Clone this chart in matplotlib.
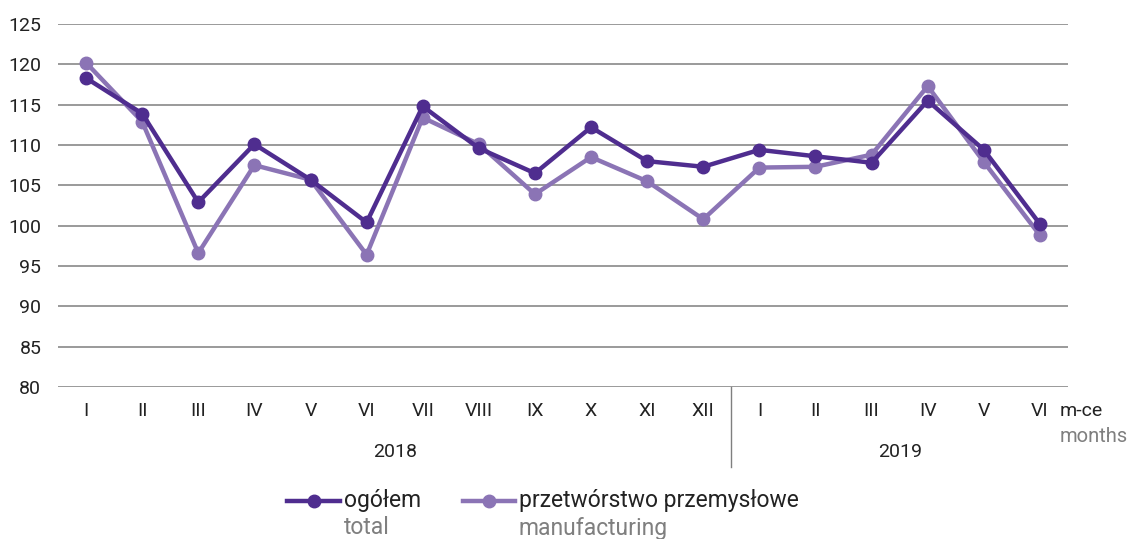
import matplotlib
matplotlib.use("Agg")
import matplotlib.pyplot as plt
from matplotlib.lines import Line2D
import matplotlib.transforms as mtransforms

plt.rcParams['font.family'] = ['Roboto', 'DejaVu Sans']

months = ["I", "II", "III", "IV", "V", "VI", "VII", "VIII", "IX", "X", "XI", "XII",
          "I", "II", "III", "IV", "V", "VI"]
years = ["2018", "2019"]
total = [118.3, 113.9, 102.9, 110.1, 105.7, 100.4, 114.8, 109.6, 106.5, 112.2, 108.0, 107.3,
         109.4, 108.6, 107.8, 115.5, 109.4, 100.2]
manufacturing = [120.2, 112.9, 96.6, 107.5, 105.7, 96.4, 113.4, 110.1, 103.9, 108.5, 105.5, 100.8,
                 107.2, 107.3, 108.8, 117.3, 107.9, 98.8]
yticks = [80, 85, 90, 95, 100, 105, 110, 115, 120, 125]

c_total = "#4f2d8f"
c_manu = "#8b74b5"
grey = "#7f7f7f"
fs = 14

fig = plt.figure(figsize=(11.32, 5.39), dpi=100)
ax = fig.add_axes([58/1132, 1-387/539, (1068-58)/1132, (387-24)/539])

x = list(range(len(months)))
ax.plot(x, total, color=c_total, lw=3.2, marker='o', ms=9, zorder=4, clip_on=False)
ax.plot(x, manufacturing, color=c_manu, lw=3.2, marker='o', ms=9, zorder=3, clip_on=False)

ax.set_xlim(-0.5, len(months) - 0.5)
ax.set_ylim(80, 125)
ax.set_yticks(yticks)
ax.set_yticklabels([str(v) for v in yticks])
ax.set_xticks(x)
ax.set_xticklabels(months)
ax.tick_params(axis='both', length=0, labelsize=fs, colors="#222222")
ax.tick_params(axis='y', pad=12)
ax.tick_params(axis='x', pad=11)
for s in ax.spines.values():
    s.set_visible(False)
ax.grid(axis='y', color=grey, lw=1.1)
ax.set_axisbelow(True)

# year separator
trans = mtransforms.blended_transform_factory(ax.transData, ax.transAxes)
ax.add_line(Line2D([11.5, 11.5], [0, -80/363], transform=trans, color=grey, lw=1, clip_on=False))
ax.text(5.5, -65/363, years[0], transform=trans, ha='center', va='center', fontsize=fs, color="#222222")
ax.text(14.5, -65/363, years[1], transform=trans, ha='center', va='center', fontsize=fs, color="#222222")

fig.text(1060/1132, 1-411/539, "m-ce", ha='left', va='center', fontsize=fs, color="#222222")
fig.text(1060/1132, 1-437/539, "months", ha='left', va='center', fontsize=fs + 0.5, color=grey)

# legend
def legend_item(x0, x1, color, label, sub):
    fy = 1-501/539
    fig.add_artist(Line2D([x0/1132, x1/1132], [fy, fy], color=color, lw=3.2,
                          transform=fig.transFigure))
    fig.add_artist(Line2D([(x0+x1)/2/1132], [fy], color=color, marker='o', ms=9,
                          transform=fig.transFigure))
    fig.text((x1+4)/1132, fy, label, ha='left', va='center', fontsize=16.5, color="#222222")
    fig.text((x1+4)/1132, 1-528/539, sub, ha='left', va='center', fontsize=16.5, color=grey)

legend_item(287, 340, c_total, "ogółem", "total")
legend_item(463, 515, c_manu, "przetwórstwo przemysłowe", "manufacturing")

fig.savefig("out.png", dpi=100)
